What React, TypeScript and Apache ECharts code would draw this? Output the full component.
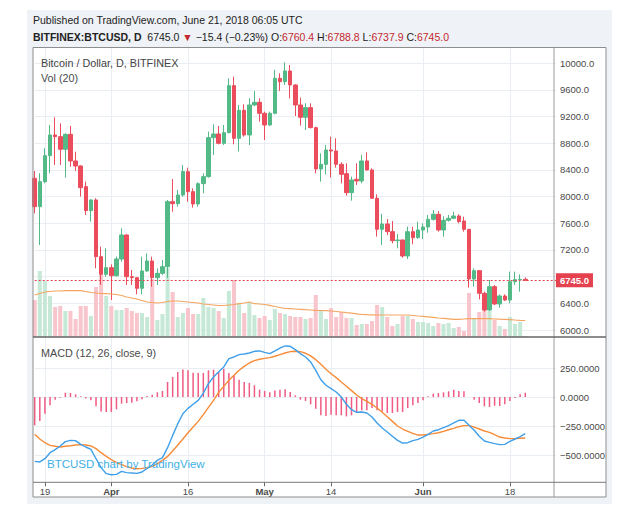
import React, { useEffect, useRef } from 'react';
import * as echarts from 'echarts';

// ---------- data (daily, BITFINEX:BTCUSD, from 2018-03-17) ----------
const START_DATE = Date.UTC(2018, 2, 17);
const AXIS_DAYS = 103;

const OPEN = [8275,7850,8225,8615,8925,8900,8710,8935,8535,8460, 8150,7790,7950,7100,6835,6935,6815,7065,7425,6800, 6785,6625,6885,7035,6785,6850,6950,7925,7895,8025, 8375,8075,7890,8195,8300,8885,8940,8800,8960,9665, 8875,9295,8925,9375,9415,9250,9075,9250,9775,9725, 9885,9675,9375,9190,9335,9035,8415,8485,8700,8685, 8485,8345,8060,8260,8235,8535,8400,7975,7510,7590, 7475,7340,7350,7110,7475,7385,7500,7545,7660,7735, 7500,7645,7675,7710,7635,7510,6765,6890,6550,6300, 6650,6390,6510,6450,6725,6755,6760.4];
const HIGH = [8385,8350,8725,9075,9190,9100,8950,9060,8675,8470, 8225,7960,7975,7250,7225,6985,7100,7525,7435,6900, 6795,7100,7150,7100,6925,7050,7950,8265,8100,8475, 8435,8125,8215,8350,8975,9085,9060,9075,9775,9800, 9375,9385,9475,9585,9475,9275,9275,9900,9850,10015, 9975,9685,9485,9400,9400,9050,8650,8775,8900,8875, 8515,8500,8300,8500,8625,8665,8425,8035,7740,7665, 7635,7440,7355,7550,7550,7625,7600,7725,7800,7785, 7705,7725,7775,7735,7700,7515,6925,6900,6575,6750, 6675,6535,6535,6875,6875,6835,6788.8];
const LOW = [7750,7275,8200,8350,8475,8475,8285,8450,8385,8000, 7725,7625,6925,6675,6800,6450,6800,7025,6675,6675, 6535,6535,6875,6650,6675,6825,6780,7775,7850,8000, 7925,7835,7850,8050,8285,8625,8785,8775,8950,8785, 8675,8900,8775,9360,9125,8850,9060,9235,9585,9675, 9475,9210,9065,9000,9025,8350,8225,8335,8285,8435, 8200,8015,7940,8175,8200,8395,7965,7400,7275,7425, 7300,7225,7085,7065,7285,7370,7365,7460,7640,7475, 7400,7625,7665,7600,7475,6635,6650,6460,6275,6285, 6375,6335,6435,6400,6675,6575,6737.9];
const CLOSE = [7850,8225,8615,8925,8900,8710,8935,8535,8460,8135, 7790,7950,7100,6835,6935,6815,7065,7425,6800,6785, 6625,6885,7035,6785,6850,6950,7925,7895,8025,8375, 8075,7890,8195,8300,8885,8940,8800,8960,9665,8875, 9295,8925,9375,9415,9250,9075,9250,9775,9725,9885, 9675,9375,9190,9335,9035,8415,8485,8700,8685,8485, 8335,8060,8250,8235,8535,8400,7975,7510,7590,7475, 7340,7350,7110,7475,7385,7500,7545,7660,7735,7500, 7645,7675,7710,7625,7510,6765,6890,6550,6300,6650, 6390,6510,6450,6725,6755,6760.4,6745.0];
const VOLUME = [37000,66000,56000,41000,30000,31000,26000,26000,18000,31000, 31000,21000,50000,62000,41000,31000,27000,27000,29000,26000, 24000,24000,20000,58000,17000,23000,69000,45000,20000,24000, 29000,23000,23000,39000,30000,29000,26000,19000,46000,57000, 33000,24000,35000,22000,19000,21000,17000,28000,24000,23000, 21000,20000,20000,18000,19000,42000,27000,18000,29000,20000, 25000,19000,19000,12000,13000,13000,16000,32000,30000,20000, 11000,13000,21000,21000,18000,15000,15000,14000,11000,14000, 13000,14000,9000,10000,6000,44000,18000,25000,28000,26000, 17000,11000,8000,20000,13000,15000,1000];
const VOLUME_MA20 = [42000,43500,45000,45500,46000,46000,46300,46300,46300,46300, 45500,44500,44000,43500,43300,43000,42500,41500,40000,39000, 38000,36500,35000,34500,34000,34500,35500,36000,36000,35500, 35000,34500,34000,33000,32500,32000,31500,31500,32000,32500, 33300,34000,35000,33300,33000,32500,31700,30500,29500,28500, 28300,28000,27700,27300,27000,26700,26500,26300,26000,25500, 25000,24300,23800,23200,22500,22300,22200,22000,22000,22000, 22000,22000,22000,22000,21500,21000,20700,20200,19600,19000, 18600,18200,17700,17700,18000,18300,18300,18300,18300,18300, 18000,17800,17700,17400,17000,16700,16500];
const MACD = [-555,-560,-532,-480,-454,-422,-385,-374,-376,-408, -431,-451,-532,-609,-661,-670,-667,-641,-652,-655, -658,-647,-615,-586,-546,-523,-437,-331,-230,-144, -98,-63,-29,34,115,172,218,259,331,345, 365,371,379,394,397,385,374,397,422,440, 437,408,374,345,302,230,149,101,72,43, 0,-63,-109,-132,-129,-138,-172,-224,-267,-302, -339,-374,-397,-394,-376,-365,-345,-322,-293,-282, -264,-247,-224,-201,-201,-244,-287,-339,-379,-391, -402,-411,-408,-382,-362,-342,-316];
const SIGNAL = [-322,-362,-394,-417,-425,-431,-425,-420,-414,-411, -414,-422,-445,-480,-512,-540,-566,-583,-601,-612, -618,-615,-609,-598,-575,-546,-512,-466,-414,-362, -308,-259,-210,-152,-89,-29,40,92,144,187, 230,264,293,313,325,333,339,351,365,379, 391,394,391,377,354,322,282,239,201,167, 129,92,55,17,-14,-37,-63,-95,-132,-170, -210,-250,-276,-296,-313,-328,-328,-322,-316,-308, -296,-282,-270,-256,-247,-247,-259,-276,-293,-305, -325,-345,-353,-359,-359,-356,-354];
const HIST = [-244,-207,-144,-72,-23,-6,37,34,23,6, -14,-29,-80,-124,-129,-129,-106,-57,-52,-49, -37,-20,9,20,40,52,129,172,216,236, 230,210,207,207,230,236,216,244,207,187, 149,129,121,101,63,52,40,57,63,66, 43,14,-23,-34,-63,-101,-158,-164,-152,-158, -158,-167,-158,-129,-115,-115,-95,-115,-124,-138, -138,-129,-129,-95,-72,-52,-29,6,29,34, 40,49,63,52,49,0,-23,-52,-80,-86, -75,-78,-63,-34,-9,23,37];

const TICK_DATES = ['2018-03-19', '2018-04-01', '2018-04-16', '2018-05-01', '2018-05-14', '2018-06-01', '2018-06-18'];
const TICK_LABELS = ['19', 'Apr', '16', 'May', '14', 'Jun', '18'];
const MONTH_LABELS = ['Apr', 'May', 'Jun'];

// ---------- styling ----------
const FONT = '"Liberation Sans", Arial, sans-serif';
const UP = '#53b987';
const DOWN = '#eb4d5c';
const VOL_UP = '#c6e8d6';
const VOL_DOWN = '#f8c5cc';
const GRID_COLOR = '#e9eef4';
const AXIS_TEXT = '#4a4a4a';
const LAST_RED = '#e5414f';
const T = 'rgba(0,0,0,0)';

const pad = (n: number) => (n < 10 ? '0' + n : '' + n);
const DATES = Array.from({ length: AXIS_DAYS }, (_, i) => {
  const d = new Date(START_DATE + i * 86400000);
  return `${d.getUTCFullYear()}-${pad(d.getUTCMonth() + 1)}-${pad(d.getUTCDate())}`;
});

export default function App() {
  const ref = useRef<HTMLDivElement>(null);

  useEffect(() => {
    if (!ref.current) return;
    const chart = echarts.init(ref.current, null, { renderer: 'svg' });

    const isTick = (_i: number, value: string) => TICK_DATES.indexOf(value) >= 0;
    const last = CLOSE.length - 1;
    const lastClose = CLOSE[last];
    const change = lastClose - CLOSE[last - 1];
    const pct = (change / CLOSE[last - 1]) * 100;
    const minus = (v: number, d: number) => (v < 0 ? '\u2212' : '+') + Math.abs(v).toFixed(d);

    const GL = 34.7;
    const GW = 5.11 * (AXIS_DAYS - 1);

    const baseX = {
      type: 'category',
      data: DATES,
      boundaryGap: false,
      axisLine: { show: false },
      axisTick: { show: false },
      axisLabel: { show: false },
      splitLine: { show: false },
    };

    const priceColors = [T, ...Array(11).fill(GRID_COLOR), T];
    const macdColors = [T, GRID_COLOR, GRID_COLOR, GRID_COLOR, GRID_COLOR, T, T];

    const txt = (x: number, y: number, text: string, extra: any = {}) => ({
      type: 'text',
      z: 60,
      x,
      y,
      style: {
        text,
        fill: '#444',
        fontSize: 10.8,
        fontFamily: FONT,
        verticalAlign: 'middle',
        align: 'left',
        ...extra,
      },
    });

    const header2 =
      `{b|BITFINEX:BTCUSD, D}  ${lastClose.toFixed(1)} {r|\u25BC} ${minus(change, 1)} (${minus(pct, 2)}%) ` +
      `O:{r|${OPEN[last].toFixed(1)}} H:{r|${HIGH[last].toFixed(1)}} L:{r|${LOW[last].toFixed(1)}} C:{r|${lastClose.toFixed(1)}}`;

    const option: any = {
      animation: false,
      textStyle: { fontFamily: FONT },
      grid: [
        { left: GL, width: GW, top: 36.63, height: 320.04, containLabel: false, outerBoundsMode: 'none' },
        { left: GL, width: GW, top: 48, height: 289, containLabel: false, outerBoundsMode: 'none' },
        { left: GL, width: GW, top: 310, height: 174, containLabel: false, outerBoundsMode: 'none' },
        { left: GL, width: GW, top: 337, height: 145.3, containLabel: false, outerBoundsMode: 'none' },
      ],
      xAxis: [
        { ...baseX, gridIndex: 0 },
        {
          ...baseX,
          gridIndex: 1,
          splitLine: { show: true, interval: isTick, lineStyle: { color: GRID_COLOR, width: 1 } },
        },
        { ...baseX, gridIndex: 2 },
        {
          ...baseX,
          gridIndex: 3,
          splitLine: { show: true, interval: isTick, lineStyle: { color: GRID_COLOR, width: 1 } },
          axisTick: { show: true, interval: isTick, length: 4, lineStyle: { color: '#666' } },
          axisLabel: {
            show: true,
            interval: isTick,
            margin: 4,
            color: AXIS_TEXT,
            fontSize: 9.5,
            fontFamily: FONT,
            formatter: (value: string) => {
              const k = TICK_DATES.indexOf(value);
              if (k < 0) return '';
              const lab = TICK_LABELS[k];
              return MONTH_LABELS.indexOf(lab) >= 0 ? `{m|${lab}}` : lab;
            },
            rich: { m: { fontWeight: 'bold', fontSize: 9.5, color: AXIS_TEXT, fontFamily: FONT } },
          },
        },
      ],
      yAxis: [
        {
          gridIndex: 0,
          type: 'value',
          position: 'right',
          min: 5600,
          max: 10400,
          interval: 400,
          axisLine: { show: false },
          axisTick: { show: false },
          axisLabel: {
            margin: 4,
            color: AXIS_TEXT,
            fontSize: 9.5,
            fontFamily: FONT,
            // the last-price tag covers any scale label too close to it
            formatter: (v: number) =>
              v >= 6000 && v <= 10000 && Math.abs(v - lastClose) > 150 ? v.toFixed(1) : '',
          },
          splitLine: { show: true, lineStyle: { color: priceColors, width: 1 } },
        },
        { gridIndex: 1, type: 'value', min: 0, max: 289000, show: false, splitLine: { show: false } },
        {
          gridIndex: 2,
          type: 'value',
          position: 'right',
          min: -750,
          max: 750,
          interval: 250,
          axisLine: { show: false },
          axisTick: { show: false },
          axisLabel: {
            margin: 4,
            color: AXIS_TEXT,
            fontSize: 9.5,
            fontFamily: FONT,
            formatter: (v: number) =>
              v >= -500 && v <= 250 ? (v < 0 ? '\u2212' : '') + Math.abs(v).toFixed(4) : '',
          },
          splitLine: { show: true, lineStyle: { color: macdColors, width: 1 } },
        },
        { gridIndex: 3, type: 'value', min: 0, max: 1, show: false, splitLine: { show: false } },
      ],
      series: [
        {
          type: 'bar',
          name: 'Volume',
          xAxisIndex: 1,
          yAxisIndex: 1,
          barWidth: 4,
          clip: false,
          data: VOLUME.map((v, i) => ({
            value: v,
            itemStyle: { color: CLOSE[i] >= OPEN[i] ? VOL_UP : VOL_DOWN },
          })),
        },
        {
          type: 'line',
          name: 'Vol MA',
          xAxisIndex: 1,
          yAxisIndex: 1,
          data: VOLUME_MA20,
          symbol: 'none',
          lineStyle: { color: '#f5a560', width: 1.2 },
        },
        {
          type: 'candlestick',
          name: 'BTCUSD',
          xAxisIndex: 0,
          yAxisIndex: 0,
          barWidth: 4,
          clip: false,
          data: OPEN.map((o, i) => [o, CLOSE[i], LOW[i], HIGH[i]]),
          itemStyle: { color: UP, color0: DOWN, borderColor: UP, borderColor0: DOWN, borderWidth: 1 },
          markLine: {
            silent: true,
            symbol: ['none', 'none'],
            data: [{ yAxis: lastClose }],
            lineStyle: { color: LAST_RED, type: [2, 2], width: 1 },
            label: {
              show: true,
              position: 'end',
              distance: 0,
              formatter: (p: any) => Number(p.value).toFixed(1),
              color: '#fff',
              backgroundColor: LAST_RED,
              fontWeight: 'bold',
              fontSize: 9.5,
              fontFamily: FONT,
              padding: [2, 4, 2, 4],
            },
          },
        },
        {
          type: 'bar',
          name: 'Histogram',
          xAxisIndex: 2,
          yAxisIndex: 2,
          barWidth: 1.5,
          data: HIST,
          itemStyle: { color: '#ef5b82' },
        },
        {
          type: 'line',
          name: 'Signal',
          xAxisIndex: 2,
          yAxisIndex: 2,
          data: SIGNAL,
          symbol: 'none',
          lineStyle: { color: '#f68b38', width: 1.4 },
        },
        {
          type: 'line',
          name: 'MACD',
          xAxisIndex: 2,
          yAxisIndex: 2,
          data: MACD,
          symbol: 'none',
          lineStyle: { color: '#3f9fea', width: 1.4 },
        },
      ],
      graphic: [
        { type: 'rect', z: -10, shape: { x: 27, y: 10, width: 585, height: 494 }, style: { fill: '#eff2f6' } },
        { type: 'rect', z: -9, shape: { x: 33, y: 47.5, width: 573, height: 449.5 }, style: { fill: '#ffffff' } },
        txt(33, 20, 'Published on TradingView.com, June 21, 2018 06:05 UTC', { fill: '#222', fontSize: 10.5 }),
        txt(33, 37, header2, {
          fill: '#222',
          fontSize: 10.5,
          rich: {
            b: { fontWeight: 'bold', fontSize: 10.5, fontFamily: FONT, fill: '#222' },
            r: { fontSize: 10.5, fontFamily: FONT, fill: '#c4282f' },
          },
        }),
        txt(41, 62.5, 'Bitcoin / Dollar, D, BITFINEX', { fill: '#444' }),
        txt(41, 77.5, 'Vol (20)', { fill: '#4a4a4a' }),
        txt(41, 352.7, 'MACD (12, 26, close, 9)', { fill: '#4a4a4a' }),
        txt(47, 464, 'BTCUSD chart by TradingView', { fill: '#3fb0e6', fontSize: 11.5 }),
        {
          type: 'rect',
          z: 50,
          shape: { x: 33, y: 47.5, width: 573, height: 449.5 },
          style: { fill: 'none', stroke: '#8e8e8e', lineWidth: 1 },
        },
        { type: 'line', z: 50, shape: { x1: 554, y1: 47.5, x2: 554, y2: 497 }, style: { stroke: '#9a9a9a', lineWidth: 1 } },
        { type: 'line', z: 50, shape: { x1: 33, y1: 337, x2: 606, y2: 337 }, style: { stroke: '#666', lineWidth: 1.5 } },
        { type: 'line', z: 50, shape: { x1: 33, y1: 482.3, x2: 606, y2: 482.3 }, style: { stroke: '#777', lineWidth: 1 } },
      ],
    };

    chart.setOption(option);
    return () => chart.dispose();
  }, []);

  return (
    <div
      ref={ref}
      style={{ position: 'fixed', left: 0, top: 0, width: 640, height: 519, background: '#ffffff' }}
    />
  );
}
